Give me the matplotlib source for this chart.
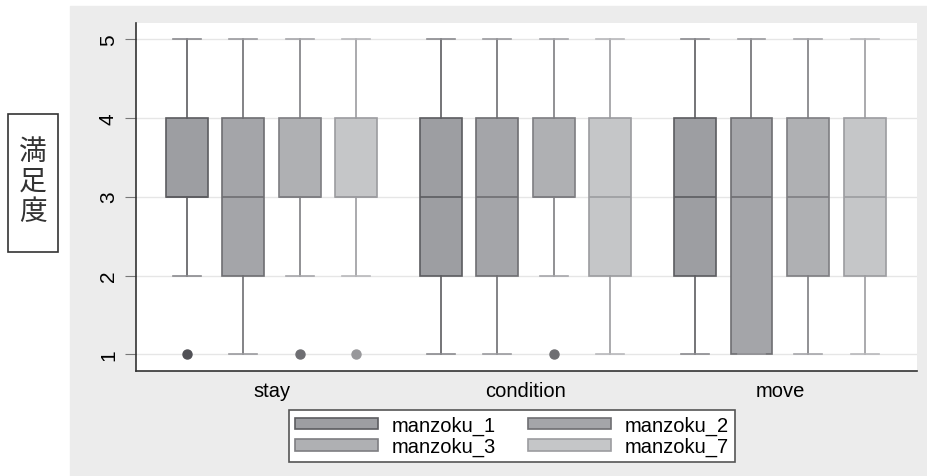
import matplotlib.pyplot as plt
from matplotlib.patches import Patch, Rectangle

plt.rcParams['font.family'] = ['Liberation Sans', 'DejaVu Sans']

groups = ['stay', 'condition', 'move']
series = ['manzoku_1', 'manzoku_2', 'manzoku_3', 'manzoku_7']

# per series, per group (stay, condition, move)
q1 = [[3, 2, 2], [2, 2, 1], [3, 3, 2], [3, 2, 2]]
med = [[3, 3, 3], [3, 3, 3], [3, 3, 3], [3, 3, 3]]
q3 = [[4, 4, 4], [4, 4, 4], [4, 4, 4], [4, 4, 4]]
whislo = [[2, 1, 1], [1, 1, 1], [2, 2, 1], [2, 1, 1]]
whishi = [[5, 5, 5], [5, 5, 5], [5, 5, 5], [5, 5, 5]]
fliers = [[[1], [], []], [[], [], []], [[1], [1], []], [[1], [], []]]

yticks = [1, 2, 3, 4, 5]

fills = ['#9d9ea2', '#a4a5a9', '#afb0b3', '#c5c6c8']
edges = ['#5c5c60', '#6e6e72', '#7e7e82', '#9c9ca0']
caps = ['#8a8a8e', '#9a9a9e', '#a6a6aa', '#b8b8bb']
dots = ['#505055', '#505055', '#6e6e72', '#98989b']

offsets = [-0.333, -0.112, 0.112, 0.333]
bw = 0.165

fig = plt.figure(figsize=(9.28, 4.77), dpi=100)
fig.add_artist(Rectangle((70 / 928, 0), 1 - 70 / 928, 1 - 7 / 477,
                         transform=fig.transFigure, color='#ececec', zorder=0))

ax = fig.add_axes([136 / 928, 105 / 477, 781 / 928, 348 / 477])
ax.set_facecolor('white')

for s in range(len(series)):
    stats = []
    for g in range(len(groups)):
        stats.append(dict(med=med[s][g], q1=q1[s][g], q3=q3[s][g],
                          whislo=whislo[s][g], whishi=whishi[s][g],
                          fliers=fliers[s][g]))
    pos = [g + offsets[s] for g in range(len(groups))]
    ax.bxp(stats, positions=pos, widths=bw, capwidths=0.11,
           patch_artist=True, manage_ticks=False,
           boxprops=dict(facecolor=fills[s], edgecolor=edges[s], linewidth=1.2),
           medianprops=dict(color=edges[s], linewidth=1.2),
           whiskerprops=dict(color=edges[s], linewidth=1.2),
           capprops=dict(color=caps[s], linewidth=1.2),
           flierprops=dict(marker='o', markersize=6.5, markerfacecolor=dots[s],
                           markeredgecolor=dots[s]))

ax.set_xlim(-0.533, 2.539)
ax.set_ylim(0.79, 5.2)
ax.set_yticks(yticks)
ax.set_yticklabels([str(v) for v in yticks], rotation=90, va='center', fontsize=15)
ax.set_xticks(range(len(groups)))
ax.set_xticklabels(groups, fontsize=14.5)
ax.tick_params(axis='x', length=0, pad=7)
ax.tick_params(axis='y', length=8, color='#777777', pad=5)
ax.grid(axis='y', color='#e6e6e6', linewidth=1)
ax.set_axisbelow(True)
for side in ['top', 'right']:
    ax.spines[side].set_visible(False)
for side in ['left', 'bottom']:
    ax.spines[side].set_color('#333333')
    ax.spines[side].set_linewidth(1.2)

# boxed vertical y title
fig.add_artist(Rectangle((8 / 928, 1 - 253 / 477), 50 / 928, 138 / 477,
                         transform=fig.transFigure, facecolor='white',
                         edgecolor='#333333', linewidth=1.2))
fig.text(33 / 928, 1 - 182 / 477, '満\n足\n度', ha='center', va='center',
         fontsize=20, linespacing=0.98, color='#333333',
         family=['Noto Sans CJK JP', 'DejaVu Sans'])

handles = [Patch(facecolor=fills[s], edgecolor=edges[s], linewidth=1.2) for s in range(4)]
order = [0, 2, 1, 3]
leg = fig.legend([handles[i] for i in order], [series[i] for i in order], ncol=2,
                 loc='center', bbox_to_anchor=(512 / 928, 1 - 437 / 477),
                 frameon=True, fancybox=False, edgecolor='#555555', framealpha=1,
                 fontsize=14.5, handlelength=4.1, handleheight=0.5,
                 columnspacing=1.6, handletextpad=0.7, labelspacing=0.1,
                 borderpad=0.3, borderaxespad=0)
leg.get_frame().set_linewidth(1.2)

fig.savefig('out.png', dpi=100)
